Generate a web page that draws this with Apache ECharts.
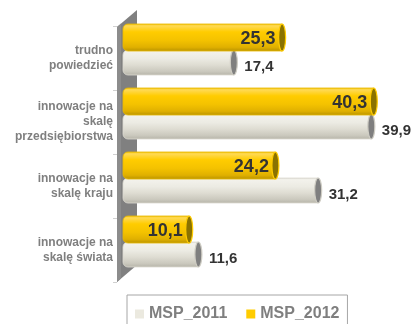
<!DOCTYPE html>
<html>
<head>
<meta charset="utf-8">
<script src="https://cdn.jsdelivr.net/npm/echarts@6/dist/echarts.min.js"></script>
<style>
  html, body { margin: 0; padding: 0; background: #ffffff; }
  #chart { width: 414px; height: 324px; }
</style>
</head>
<body>
<div id="chart"></div>
<script>
// Categories, top to bottom
const categories = [
  'trudno\npowiedzieć',
  'innowacje na\nskalę\nprzedsiębiorstwa',
  'innowacje na\nskalę kraju',
  'innowacje na\nskalę świata'
];
const seriesNames = ['MSP_2011', 'MSP_2012'];
const msp2011 = [17.4, 39.9, 31.2, 11.6];
const msp2012 = [25.3, 40.3, 24.2, 10.1];
const valueMax = 45;

// Layout
const FONT = '"Liberation Sans", Arial, sans-serif';
const labelGrid = { left: 117, top: 26, height: 256 };
const barGrid = { left: 131, top: 18, height: 256, width: 275 };
const wallDepth = { dx: 20, dy: 17 };

const fmt = v => v.toFixed(1).replace('.', ',');

// Cylinder styles for each series
const looks = {
  MSP_2011: {
    shift: 12.5, h: 25, rx: 3.5,
    body: [
      [0, '#d8d6cc'], [0.08, '#f3f2ec'], [0.35, '#ecebe3'],
      [0.6, '#dedcd2'], [0.85, '#cac8bd'], [1, '#b5b3a8']
    ],
    edge: '#dddbd2', cap: '#7f7f7f', capEdge: '#cfcdc4',
    labelInside: false, font: 'bold 15px ' + FONT
  },
  MSP_2012: {
    shift: -12.5, h: 27, rx: 3.5,
    body: [
      [0, '#f0c000'], [0.08, '#ffda55'], [0.3, '#ffcc00'],
      [0.6, '#f4c200'], [0.85, '#e0b000'], [1, '#b89200']
    ],
    edge: '#e8b800', cap: '#8a7200', capEdge: '#ffcc00',
    labelInside: true, font: 'bold 18px ' + FONT
  }
};

function cylinderRenderer(name) {
  const L = looks[name];
  return function (params, api) {
    const val = api.value(0);
    const idx = api.value(1);
    const start = api.coord([0, idx]);
    const end = api.coord([val, idx]);
    const cy = start[1] + L.shift;
    const h = L.h;
    const x0 = start[0] - 8;
    const capCx = end[0] - L.rx;
    const children = [
      {
        type: 'rect',
        shape: { x: x0, y: cy - h / 2, width: capCx - x0, height: h, r: [5, 0, 0, 5] },
        style: {
          fill: new echarts.graphic.LinearGradient(0, 0, 0, 1,
            L.body.map(s => ({ offset: s[0], color: s[1] }))),
          stroke: L.edge, lineWidth: 0.8
        }
      },
      {
        type: 'ellipse',
        shape: { cx: capCx, cy: cy, rx: L.rx, ry: h / 2 },
        style: { fill: L.cap, stroke: L.capEdge, lineWidth: 1.2 }
      }
    ];
    if (L.labelInside) {
      children.push({
        type: 'text',
        style: {
          text: fmt(val), x: capCx - L.rx - 3, y: cy + 2,
          align: 'right', verticalAlign: 'middle',
          font: L.font, fill: '#333333'
        }
      });
    } else {
      children.push({
        type: 'text',
        style: {
          text: fmt(val), x: end[0] + 7, y: cy + 4,
          align: 'left', verticalAlign: 'middle',
          font: L.font, fill: '#333333'
        }
      });
    }
    return { type: 'group', children: children };
  };
}

const chart = echarts.init(document.getElementById('chart'), null, { renderer: 'canvas' });

// Grey back wall behind the bars, a slanted parallelogram
const wallLeft = labelGrid.left;
const wallTop = labelGrid.top + 1;
const wallBottom = labelGrid.top + labelGrid.height;
const wallPoints = [
  [wallLeft, wallTop],
  [wallLeft + wallDepth.dx, wallTop - wallDepth.dy],
  [wallLeft + wallDepth.dx, wallBottom - wallDepth.dy],
  [wallLeft, wallBottom]
];

const option = {
  animation: false,
  backgroundColor: '#ffffff',
  graphic: [
    {
      type: 'polygon', z: 0,
      shape: { points: wallPoints },
      style: { fill: '#808080' }
    },
    {
      type: 'polygon', z: 0,
      shape: { points: [
        [wallLeft, wallTop], [wallLeft + 4, wallTop - 3.5],
        [wallLeft + 4, wallBottom - 3.5], [wallLeft, wallBottom]
      ] },
      style: { fill: '#8c8c8c' }
    }
  ],
  grid: [
    { left: labelGrid.left, top: labelGrid.top, height: labelGrid.height, width: 280 },
    { left: barGrid.left, top: barGrid.top, height: barGrid.height, width: barGrid.width }
  ],
  xAxis: [
    { gridIndex: 0, type: 'value', min: 0, max: valueMax, show: false },
    { gridIndex: 1, type: 'value', min: 0, max: valueMax, show: false }
  ],
  yAxis: [
    {
      gridIndex: 0, type: 'category', data: categories, inverse: true,
      axisLine: { show: false },
      axisTick: { show: true, length: 4, lineStyle: { color: '#d0d0d0' } },
      axisLabel: {
        margin: 4, color: '#7f7f7f', fontFamily: FONT, fontWeight: 'bold',
        fontSize: 12, lineHeight: 15, align: 'right'
      },
      splitLine: { show: false }
    },
    {
      gridIndex: 1, type: 'category', data: categories, inverse: true, show: false
    }
  ],
  legend: {
    left: 127, top: 295, orient: 'horizontal',
    icon: 'rect', itemWidth: 9, itemHeight: 9, itemGap: 19,
    padding: [11, 8, 12, 8],
    borderColor: '#a6a6a6', borderWidth: 1,
    textStyle: { color: '#7f7f7f', fontFamily: FONT, fontWeight: 'bold', fontSize: 16 },
    data: [
      { name: seriesNames[0], itemStyle: { color: '#ebe9df' } },
      { name: seriesNames[1], itemStyle: { color: '#ffcc00' } }
    ]
  },
  series: [
    {
      name: seriesNames[0], type: 'custom', xAxisIndex: 1, yAxisIndex: 1, z: 3,
      clip: false, itemStyle: { color: '#ebe9df' },
      encode: { x: 0, y: 1 },
      renderItem: cylinderRenderer(seriesNames[0]),
      data: msp2011.map((v, i) => [v, i])
    },
    {
      name: seriesNames[1], type: 'custom', xAxisIndex: 1, yAxisIndex: 1, z: 4,
      clip: false, itemStyle: { color: '#ffcc00' },
      encode: { x: 0, y: 1 },
      renderItem: cylinderRenderer(seriesNames[1]),
      data: msp2012.map((v, i) => [v, i])
    }
  ]
};

chart.setOption(option);
</script>
</body>
</html>
